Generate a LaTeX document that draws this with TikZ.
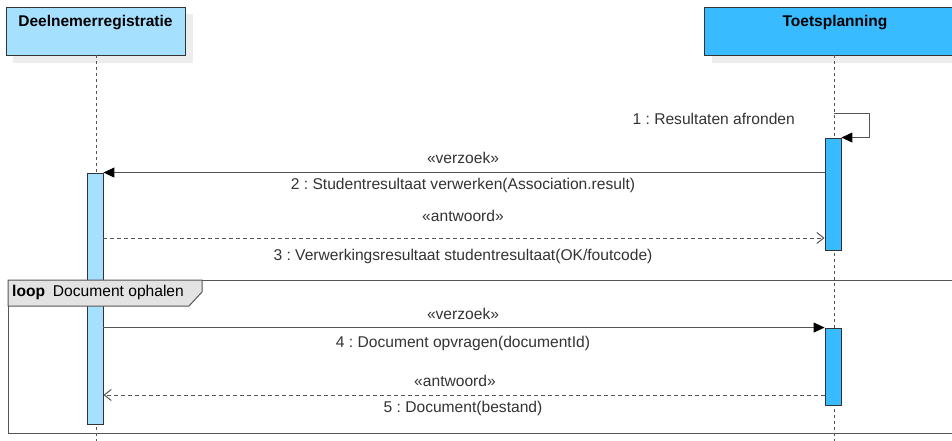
\documentclass[tikz,border=0pt]{standalone}
\usepackage{fontspec}
\setmainfont{Liberation Sans}
\usetikzlibrary{arrows.meta,calc}
\definecolor{lightblue}{HTML}{A6E0FF}
\definecolor{darkblue}{HTML}{38BBFF}
\definecolor{edge}{HTML}{333333}
\definecolor{lineg}{HTML}{555555}
\definecolor{txt}{HTML}{333333}
\definecolor{shadowg}{HTML}{EDEDED}
\definecolor{fragfill}{HTML}{E3E3E3}
\tikzset{
  participant/.style={draw=edge, line width=0.9pt, minimum height=48pt, inner sep=0pt},
  ptext/.style={font=\bfseries\fontsize{15.5}{17}\selectfont, text=black, anchor=north, inner sep=0pt},
  lifeline/.style={draw=lineg, line width=0.9pt, dash pattern=on 3pt off 3pt},
  activation/.style={draw=edge, line width=0.9pt, minimum width=16pt, inner sep=0pt},
  sync/.style={draw=lineg, line width=1pt, -{Triangle[length=11pt,width=10pt,color=black]}},
  reply/.style={draw=lineg, line width=1pt, dash pattern=on 4pt off 3pt, -{Straight Barb[length=7pt,width=11pt]}},
  lbl/.style={font=\fontsize{15.6}{17}\selectfont, text=txt, inner sep=0pt},
}
\begin{document}
\frenchspacing
\begin{tikzpicture}[x=1pt,y=-1pt]
\useasboundingbox (0,0) rectangle (952,441);
% shadows
\fill[shadowg] (13,14) rectangle (193,63);
\fill[shadowg] (712,14) rectangle (975,63);
% participants
\node[participant, fill=lightblue, minimum width=179pt] (p1) at (95.5,31) {};
\node[ptext] (t1) at ($(p1.north)+(0,9)$) {Deelnemerregistratie};
\node[participant, fill=darkblue, minimum width=262pt] (p2) at (835,31) {};
\node[ptext] (t2) at ($(p2.north)+(0,9)$) {Toetsplanning};
% lifelines
\coordinate (l1end) at (96,441);
\coordinate (l2end) at (834,441);
\draw[lifeline] (p1.south -| l1end) -- (l1end);
\draw[lifeline] (p2.south -| l2end) -- (l2end);
% activations
\node[activation, fill=lightblue, minimum height=251pt] (la) at (95,298.5) {};
\node[activation, fill=darkblue, minimum height=112pt] (a1) at (833,194) {};
\node[activation, fill=darkblue, minimum height=77pt] (a2) at (833,366.5) {};
% loop frame
\node[draw=lineg, line width=1pt, minimum width=960pt, minimum height=153pt, anchor=north west, inner sep=0pt] (loop) at (8,280) {};
\draw[draw=lineg, line width=1pt, fill=fragfill] (loop.north west) -- ++(194,0) -- ++(0,12) -- ++(-13,14) -- ++(-181,0) -- cycle;
\node[lbl, anchor=west, text=black] (looplbl) at (12,292.5) {\textbf{loop}\enspace Document ophalen};
% message 1 (self)
\coordinate (s1) at (834,114);
\draw[sync] (s1) -- ++(35,0) |- (a1.north east);
\node[lbl, anchor=east] (m1) at (795,119) {1 : Resultaten afronden};
% message 2
\draw[sync] (la.north east -| a1.west) -- (la.north east);
\node[lbl] (m2s) at (463,158) {«verzoek»};
\node[lbl] (m2) at (463,185) {2 : Studentresultaat verwerken(Association.result)};
% message 3
\coordinate (y3) at (0,238);
\draw[reply] (la.east |- y3) -- (a1.west |- y3);
\node[lbl] (m3s) at (463,216) {«antwoord»};
\node[lbl] (m3) at (463,256) {3 : Verwerkingsresultaat studentresultaat(OK/foutcode)};
% message 4
\draw[sync] (la.east |- a2.north) -- (a2.north west);
\node[lbl] (m4s) at (463,314) {«verzoek»};
\node[lbl] (m4) at (463,343) {4 : Document opvragen(documentId)};
% message 5
\coordinate (y5) at (0,395);
\draw[reply] (a2.west |- y5) -- (la.east |- y5);
\node[lbl] (m5s) at (455,381) {«antwoord»};
\node[lbl] (m5) at (463,408) {5 : Document(bestand)};
\end{tikzpicture}
\end{document}
